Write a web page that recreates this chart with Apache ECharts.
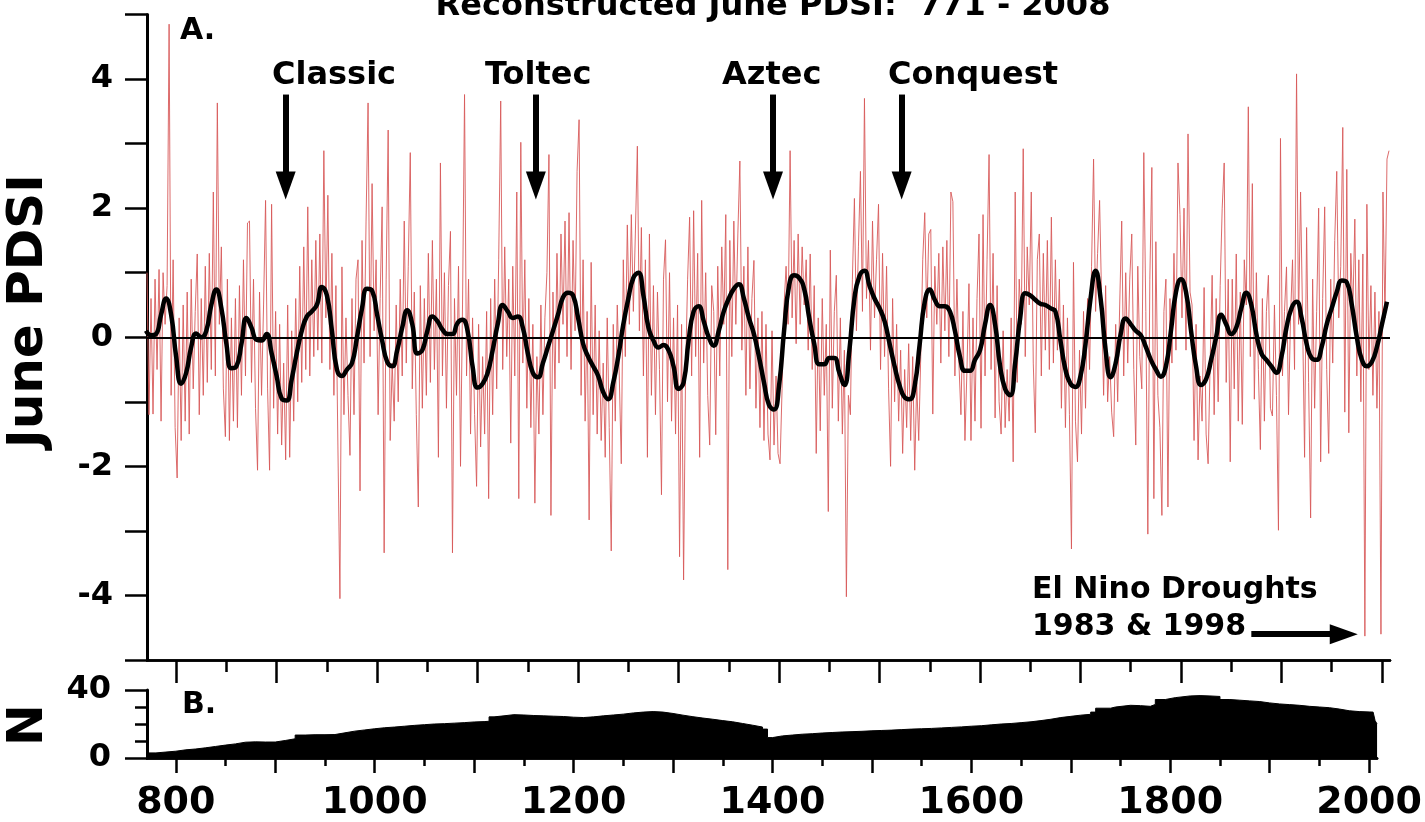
<!DOCTYPE html>
<html>
<head>
<meta charset="utf-8">
<title>Reconstructed June PDSI</title>
<script src="https://cdn.jsdelivr.net/npm/echarts@6/dist/echarts.min.js"></script>
<style>
  html, body { margin: 0; padding: 0; background: #fff; }
  #chart { width: 1425px; height: 822px; }
</style>
</head>
<body>
<div id="chart"></div>
<script>
// annual June PDSI, read every 2nd year from 771
var redStart = 771, redStep = 2;
var redVals = [
  1.0, -1.2, 0.6, -1.19, 0.9,     -0.5, 1.05, -1.3, 1.0, 0.2,
  0.8, 4.85, -0.9, 1.2, -1.4,     -2.18, 0.3, -1.6, 0.5, -1.3,
  0.7, -1.5, 0.9, -0.8, 0.4,      1.29, -1.2, 0.6, -0.9, 1.1,
  -0.7, 1.3, -0.5, 2.25, -0.6,    3.63, 0.2, 1.4, -0.8, -1.54,
  0.9, -1.6, 0.3, -1.3, 0.6,      -1.4, 0.8, -0.9, 1.2, -0.6,
  1.77, 1.8, -0.7, 0.9, -1.1,     -2.06, 0.7, -0.9, 0.5, 2.12,
  -0.8, -2.06, 2.06, -1.1, 0.4,   -1.5, 0.2, -1.67, -0.4, -1.9,
  0.5, -1.86, 0.1, -1.3, 0.6,     -1.0, 1.1, -0.7, 1.4, -0.5,
  2.02, -0.6, 1.2, -0.3, 1.5,     -0.2, 1.6, -0.4, 2.89, 0.3,
  2.2, -0.5, 1.3, -0.9, 0.8,      -1.7, -4.05, 1.09, -1.2, 0.3,
  -0.9, -1.83, 0.6, -1.2, 0.9,    1.2, -2.38, 1.5, -0.4, 1.8,
  3.63, -0.3, 2.38, 0.1, 1.2,     -1.2, 0.6, 2.02, -3.34, 0.9,
  3.21, -1.6, -0.4, -1.3, 0.5,    -1.0, 0.9, -0.6, 1.8, -0.4,
  1.1, 2.86, -0.8, 0.7, -1.2,     -2.63, 0.8, -1.1, 0.6, -0.9,
  1.3, -0.7, 1.5, -0.5, 0.9,      -1.86, 2.7, -0.6, 1.0, -1.1,
  0.8, 1.64, -3.34, 0.6, -0.9,    1.1, -2.0, 0.5, 3.76, -0.6,
  0.9, -1.5, 0.3, -1.2, -2.31,    0.2, -1.7, -0.3, -1.5, 0.4,
  -2.5, 0.6, -1.2, 0.9, -0.8,     1.2, 3.66, -0.5, 1.4, -0.3,
  0.9, -1.64, 1.1, -0.6, 2.25,    -2.5, 3.02, -0.4, 1.2, -1.1,
  0.6, -1.4, 0.2, -2.57, -0.3,    -1.5, 0.5, -1.2, 0.3, 1.0,
  2.83, -2.76, 0.7, -0.8, 1.3,    -0.4, 1.6, 0.2, 1.8, -0.3,
  1.93, -0.5, 1.5, 0.1, 2.57,     3.37, -0.9, 1.2, -1.3, 0.4,
  -2.83, 1.16, -1.2, 0.5, -1.5,   0.1, -1.6, -0.4, -1.86, 0.3,
  -1.4, -3.31, 0.2, -1.3, 0.5,    -0.6, -1.96, 1.2, -0.3, 1.74,
  0.2, 1.9, 0.4, 1.6, 2.96,       0.1, 1.7, -0.6, 1.2, -1.86,
  1.6, -0.9, 0.8, -1.2, 0.7,      -0.5, -2.44, 0.9, 1.51, -1.0,
  1.0, -1.3, 0.3, -1.5, 0.5,      -3.4, 0.2, -3.76, -0.5, 0.9,
  1.86, -0.6, 1.96, -0.3, 1.3,    -1.86, 2.12, -0.4, 1.0, -0.9,
  -1.67, 0.8, 0.4, -1.51, 1.1,    -0.6, 1.4, 0.2, 1.9, -3.6,
  1.5, -0.3, 1.8, 0.2, 1.6,       2.73, -0.2, 1.1, -0.9, 1.4,
  -0.8, 0.6, 1.19, -1.1, 0.3,     -1.4, 0.4, -1.6, 0.2, -1.5,
  -1.9, 0.1, -1.67, -0.6, -1.8,   -1.96, -0.8, 0.5, 1.1, 0.2,
  2.89, 0.3, 1.5, -0.1, 1.6,      0.2, 1.4, 0.5, 1.2, -0.2,
  1.29, -0.5, 0.8, -1.8, 0.3,     -1.45, 0.6, -0.9, 0.2, -2.7,
  1.35, -1.1, 0.4, 0.96, -1.3,    0.3, -1.5, -0.2, -4.02, -0.9,
  -1.2, 0.9, 2.15, 0.1, 1.4,      2.57, 0.4, 3.7, 0.6, 1.5,
  -0.2, 1.8, 0.3, 1.2, 2.06,      -0.5, 1.3, -0.3, 1.1, -0.8,
  -2.0, 0.6, -1.0, 0.2, -1.3,     -0.2, -1.8, -0.5, -1.4, -0.1,
  -1.6, -0.3, -2.06, -0.7, -1.6,  -0.3, 1.2, 1.93, 0.3, 1.6,
  1.67, -1.19, 1.1, 0.2, 1.3,     -0.4, 1.4, 0.1, 1.5, -0.3,
  2.25, 2.1, -0.6, 0.9, -0.4,     -1.2, 0.4, -1.6, -0.5, 0.83,
  -1.6, 0.3, -1.3, 0.6, 1.6,      -1.41, 1.9, -0.6, 1.2, 2.83,
  -0.5, 1.3, -1.25, 0.8, -1.0,    -1.5, 0.1, -1.4, -0.5, -1.3,
  0.3, -1.93, 2.25, -0.7, 0.9,    0.2, 2.92, -0.3, 1.4, 0.5,
  2.25, -0.4, -1.48, 1.2, 1.6,    -0.6, 1.3, -0.2, 1.5, -0.5,
  1.86, -0.4, 1.2, -0.2, 0.9,     -1.1, 0.5, -1.4, 0.3, -1.2,
  -3.28, 1.16, -1.3, -1.93, -0.2, -1.5, 0.4, -1.1, 0.6, -0.5,
  1.1, 2.76, 0.4, 1.3, 2.12,      0.6, -0.9, 0.8, -1.0, -0.3,
  -1.16, -1.54, 0.2, -1.0, 0.5,   1.8, -0.6, 1.0, -0.4, 0.9,
  1.6, -0.5, -1.67, 1.1, -0.3,    -0.8, 2.86, 0.4, -3.05, 0.9,
  2.63, -2.5, 1.48, -0.9, -1.4,   -2.76, 0.4, 0.9, -2.63, 0.6,
  -0.4, 1.3, -0.2, 2.7, 1.9,      0.3, 2.0, -0.2, 3.15, 0.7,
  0.5, -1.6, 0.2, -1.9, -0.6,     -1.3, 0.77, -1.5, -1.96, -0.4,
  0.96, -1.2, 0.6, -1.0, 0.8,     2.0, 2.7, -0.7, 0.9, -1.93,
  0.9, -0.8, 1.29, -1.3, 0.7,     -1.35, 1.2, 0.5, 3.57, -0.3,
  2.38, -0.96, 1.0, -0.5, -1.74,  0.6, -1.3, 0.4, 0.96, -1.1,
  -1.22, 0.5, -0.9, -2.99, 3.08,  -0.6, 0.4, 1.09, -1.2, 0.3,
  1.2, -0.5, 4.08, 0.2, 2.25,     0.3, -1.86, 1.7, -0.7, -2.8,
  0.9, -1.1, 0.4, 2.0, -1.93,     0.6, 2.02, -0.5, -1.8, 0.9,
  -0.4, 1.5, 2.57, 0.3, 1.1,      3.25, -1.16, 2.6, -1.48, 1.3,
  0.4, 1.83, -0.6, 1.2, -1.0,     1.29, -4.63, 2.06, -0.5, 0.8,
  -0.9, 0.7, -1.1, 0.4, -4.6,     2.25, 0.3, 2.76, 2.89
];

// smoothed curve, every 5 years from 770
var smoothStart = 770, smoothStep = 5;
var smoothVals = [
  0.1, 0.03, 0.05, 0.35, 0.6, 0.35, -0.3, -0.72, -0.55, -0.15,
  0.06, 0.0, 0.1, 0.5, 0.74, 0.45, -0.1, -0.48, -0.45, -0.1,
  0.3, 0.15, -0.04, -0.05, 0.05, -0.25, -0.6, -0.95, -0.98, -0.65,
  -0.25, 0.1, 0.32, 0.4, 0.5, 0.78, 0.65, 0.1, -0.5, -0.6,
  -0.5, -0.4, 0.0, 0.45, 0.75, 0.72, 0.35, -0.05, -0.38, -0.45,
  -0.2, 0.15, 0.42, 0.2, -0.25, -0.2, 0.1, 0.32, 0.25, 0.12,
  0.05, 0.05, 0.22, 0.27, 0.1, -0.45, -0.78, -0.72, -0.55, -0.2,
  0.2, 0.5, 0.4, 0.3, 0.32, 0.15, -0.25, -0.55, -0.62, -0.4,
  -0.15, 0.1, 0.35, 0.62, 0.69, 0.65, 0.3, -0.1, -0.3, -0.45,
  -0.6, -0.85, -0.96, -0.7, -0.3, 0.2, 0.6, 0.92, 1.0, 0.65,
  0.15, -0.05, -0.16, -0.12, -0.2, -0.45, -0.8, -0.7, -0.05, 0.4,
  0.48, 0.25, 0.0, -0.13, 0.1, 0.4, 0.6, 0.75, 0.82, 0.6,
  0.3, 0.05, -0.3, -0.7, -1.05, -1.12, -0.75, 0.1, 0.8, 0.96,
  0.92, 0.75, 0.3, -0.1, -0.42, -0.42, -0.32, -0.32, -0.55, -0.74,
  -0.2, 0.6, 0.95, 1.03, 0.8, 0.6, 0.45, 0.25, -0.1, -0.45,
  -0.75, -0.93, -0.96, -0.75, -0.1, 0.55, 0.74, 0.58, 0.48, 0.48,
  0.4, 0.1, -0.3, -0.52, -0.52, -0.35, -0.2, 0.2, 0.5, 0.2,
  -0.45, -0.8, -0.9, -0.4, 0.3, 0.68, 0.65, 0.58, 0.52, 0.5,
  0.45, 0.4, -0.05, -0.5, -0.72, -0.77, -0.6, -0.1, 0.6, 1.03,
  0.6, -0.2, -0.62, -0.4, 0.05, 0.29, 0.2, 0.1, 0.03, -0.15,
  -0.35, -0.5, -0.61, -0.45, 0.1, 0.7, 0.9, 0.7, 0.1, -0.45,
  -0.74, -0.65, -0.35, 0.0, 0.35, 0.2, 0.05, 0.15, 0.45, 0.69,
  0.5, 0.05, -0.25, -0.35, -0.45, -0.55, -0.3, 0.15, 0.45, 0.55,
  0.3, -0.1, -0.32, -0.35, -0.15, 0.2, 0.45, 0.7, 0.88, 0.85,
  0.5, 0.0, -0.35, -0.45, -0.38, -0.15, 0.2, 0.55
];

// sample depth (number of series)
var nYears = [771, 780, 790, 800, 810, 820, 830, 840, 850, 860, 870, 880, 890, 900, 910, 920, 930, 940, 950, 960,
  970, 980, 990, 1000, 1010, 1020, 1030, 1040, 1050, 1060, 1070, 1080, 1090, 1100, 1110, 1115, 1120, 1130, 1140, 1150,
  1160, 1170, 1180, 1190, 1200, 1210, 1220, 1230, 1240, 1250, 1260, 1270, 1280, 1290, 1300, 1310, 1320, 1330, 1340, 1350,
  1360, 1370, 1380, 1390, 1395, 1400, 1410, 1420, 1430, 1440, 1450, 1460, 1470, 1480, 1490, 1500, 1510, 1520, 1530, 1540,
  1550, 1560, 1570, 1580, 1590, 1600, 1610, 1620, 1630, 1640, 1650, 1660, 1670, 1680, 1690, 1700, 1710, 1720, 1725, 1740,
  1745, 1760, 1770, 1780, 1785, 1795, 1805, 1820, 1830, 1840, 1850, 1860, 1870, 1880, 1890, 1900, 1910, 1920, 1930, 1940,
  1950, 1960, 1970, 1980, 1990, 2000, 2004, 2006, 2008];
var nVals = [3, 3.5, 4, 4.8, 5.3, 6, 6.8, 7.6, 8.3, 9.3, 9.5, 9.4, 9.4, 10.3, 11.3, 13.5, 13.7, 13.7, 13.8, 14.8,
  15.8, 16.5, 17.2, 17.8, 18.2, 18.7, 19.2, 19.6, 20, 20.2, 20.5, 20.8, 21.2, 21.4, 21.6, 24.2, 24.8, 25.5, 25.3, 25,
  24.8, 24.6, 24.4, 24, 23.8, 24.2, 24.8, 25.3, 25.8, 26.5, 27, 27.3, 27, 26.2, 25.2, 24.3, 23.5, 22.8, 22, 21.3,
  20.3, 19.3, 18.2, 17, 12, 13, 13.5, 14, 14.3, 14.7, 15, 15.3, 15.5, 15.7, 16, 16.2, 16.4, 16.7, 17, 17.2,
  17.4, 17.7, 18, 18.3, 18.7, 19, 19.5, 20, 20.3, 20.8, 21.3, 22, 22.8, 23.8, 24.5, 25.2, 25.7, 27, 29.3, 30,
  31, 30.8, 30.4, 31.5, 34.4, 35.5, 36.5, 36.7, 36.5, 36.2, 34.4, 34, 33.6, 33.2, 32.4, 31.8, 31.4, 31, 30.4, 30,
  29.6, 28.8, 27.8, 27.3, 27.1, 27, 26.5, 22, 20];

// tick values
var majorTicks = [800, 900, 1000, 1100, 1200, 1300, 1400, 1500, 1600, 1700, 1800, 1900, 2000];
var minorTicks = [850, 950, 1050, 1150, 1250, 1350, 1450, 1550, 1650, 1750, 1850, 1950];
var yearLabels = [800, 1000, 1200, 1400, 1600, 1800, 2000];

// period arrows (year, from, to)
var periodNames = ['Classic', 'Toltec', 'Aztec', 'Conquest'];
var periodYears = [909, 1158, 1394, 1522];
var periodTextX = [272, 485, 722, 888];
var arrowTop = 3.76, arrowEnd = 2.35;
var ninoArrow = [1870, 1962, -4.6];

var FONT = 'DejaVu Sans';

var redData = redVals.map(function (v, i) { return [redStart + i * redStep, v]; });
var smoothData = smoothVals.map(function (v, i) { return [smoothStart + i * smoothStep, v]; });
var nData = nVals.map(function (v, i) { return [nYears[i], v]; });

var chart = echarts.init(document.getElementById('chart'));

function xAxisFor(grid, ticks, len, labels) {
    return {
        type: 'value',
        gridIndex: grid,
        position: 'bottom',
        min: 771,
        max: 2008,
        axisLine: { show: true, onZero: false, lineStyle: { color: '#000', width: 2.5 } },
        axisTick: { show: true, customValues: ticks, length: len, lineStyle: { color: '#000', width: 2.5 } },
        axisLabel: labels ? {
            show: true, customValues: labels, color: '#000', fontFamily: FONT,
            fontWeight: 'bold', fontSize: 38, margin: 26,
            formatter: function (v) { return String(v); }
        } : { show: false },
        splitLine: { show: false }
    };
}

var texts = [];
periodNames.forEach(function (name, i) {
    texts.push({
        type: 'text', x: periodTextX[i], y: 76,
        style: { text: name, fill: '#000', font: 'bold 32px "' + FONT + '"', align: 'left', verticalAlign: 'middle' }
    });
});

var option = {
    backgroundColor: '#fff',
    animation: false,
    grid: [
        { left: 147, top: 14.5, width: 1243, height: 645.5 },
        { left: 147, top: 690, width: 1243, height: 72 }
    ],
    xAxis: [
        xAxisFor(0, majorTicks, 23, null),
        xAxisFor(0, minorTicks, 12, null),
        xAxisFor(1, majorTicks, 15, yearLabels),
        xAxisFor(1, minorTicks, 8, null)
    ],
    yAxis: [{
        type: 'value',
        gridIndex: 0,
        min: -5,
        max: 5,
        interval: 1,
        axisLine: { show: true, lineStyle: { color: '#000', width: 3 } },
        axisTick: { show: true, length: 22, lineStyle: { color: '#000', width: 2.5 } },
        axisLabel: {
            color: '#000', fontFamily: FONT, fontWeight: 'bold', fontSize: 32, margin: 34,
            formatter: function (v) { return (v % 2 === 0 && Math.abs(v) < 5) ? String(v) : ''; }
        },
        splitLine: { show: false }
    }, {
        type: 'value',
        gridIndex: 1,
        position: 'left',
        min: 0,
        max: 40,
        interval: 40,
        axisLine: { show: true, lineStyle: { color: '#000', width: 3 } },
        axisTick: { show: true, length: 22, lineStyle: { color: '#000', width: 2.5 } },
        axisLabel: { color: '#000', fontFamily: FONT, fontWeight: 'bold', fontSize: 32, margin: 36 },
        splitLine: { show: false }
    }, {
        type: 'value',
        gridIndex: 1,
        position: 'left',
        offset: 0,
        min: 0,
        max: 40,
        interval: 10,
        axisLine: { show: false },
        axisTick: { show: true, length: 12, lineStyle: { color: '#000', width: 2.5 } },
        axisLabel: { show: false },
        splitLine: { show: false }
    }],
    series: [{
        name: 'annual',
        type: 'line',
        xAxisIndex: 0,
        yAxisIndex: 0,
        data: redData,
        symbol: 'none',
        lineStyle: { color: '#d85a5a', width: 0.9 },
        z: 2
    }, {
        name: 'smoothed',
        type: 'line',
        xAxisIndex: 0,
        yAxisIndex: 0,
        data: smoothData,
        symbol: 'none',
        smooth: 0.5,
        lineStyle: { color: '#000', width: 4.5 },
        markLine: {
            silent: true,
            symbol: 'none',
            label: { show: false },
            lineStyle: { color: '#000', width: 2, type: 'solid' },
            data: [{ yAxis: 0 }]
        },
        z: 4
    }, {
        name: 'arrows',
        type: 'line',
        xAxisIndex: 0,
        yAxisIndex: 0,
        data: [],
        markLine: {
            silent: true,
            symbol: ['none', 'triangle'],
            symbolSize: [20, 28],
            label: { show: false },
            lineStyle: { color: '#000', width: 6, type: 'solid', opacity: 1 },
            data: periodYears.map(function (y) {
                return [{ coord: [y, arrowTop] }, { coord: [y, arrowEnd] }];
            }).concat([[{ coord: [ninoArrow[0], ninoArrow[2]] }, { coord: [ninoArrow[1], ninoArrow[2]] }]])
        },
        z: 5
    }, {
        name: 'N',
        type: 'line',
        xAxisIndex: 2,
        yAxisIndex: 1,
        data: nData,
        step: 'end',
        symbol: 'none',
        lineStyle: { color: '#000', width: 1 },
        areaStyle: { color: '#000', opacity: 1 }
    }],
    graphic: texts.concat([
        { type: 'text', x: 773, y: 7,
          style: { text: 'Reconstructed June PDSI:  771 - 2008', fill: '#000', font: 'bold 32px "' + FONT + '"', align: 'center', verticalAlign: 'middle' } },
        { type: 'text', x: 180, y: 31,
          style: { text: 'A.', fill: '#000', font: 'bold 30px "' + FONT + '"', align: 'left', verticalAlign: 'middle' } },
        { type: 'text', x: 182, y: 705,
          style: { text: 'B.', fill: '#000', font: 'bold 30px "' + FONT + '"', align: 'left', verticalAlign: 'middle' } },
        { type: 'text', x: 1032, y: 590,
          style: { text: 'El Nino Droughts', fill: '#000', font: 'bold 30px "' + FONT + '"', align: 'left', verticalAlign: 'middle' } },
        { type: 'text', x: 1032, y: 627,
          style: { text: '1983 & 1998', fill: '#000', font: 'bold 30px "' + FONT + '"', align: 'left', verticalAlign: 'middle' } },
        { type: 'text', x: 29, y: 311, rotation: Math.PI / 2,
          style: { text: 'June PDSI', fill: '#000', font: 'bold 50px "' + FONT + '"', align: 'center', verticalAlign: 'middle' } },
        { type: 'text', x: 29, y: 725, rotation: Math.PI / 2,
          style: { text: 'N', fill: '#000', font: 'bold 50px "' + FONT + '"', align: 'center', verticalAlign: 'middle' } }
    ])
};

chart.setOption(option);

window.addEventListener('resize', function () {
    chart.resize();
});
</script>
</body>
</html>
